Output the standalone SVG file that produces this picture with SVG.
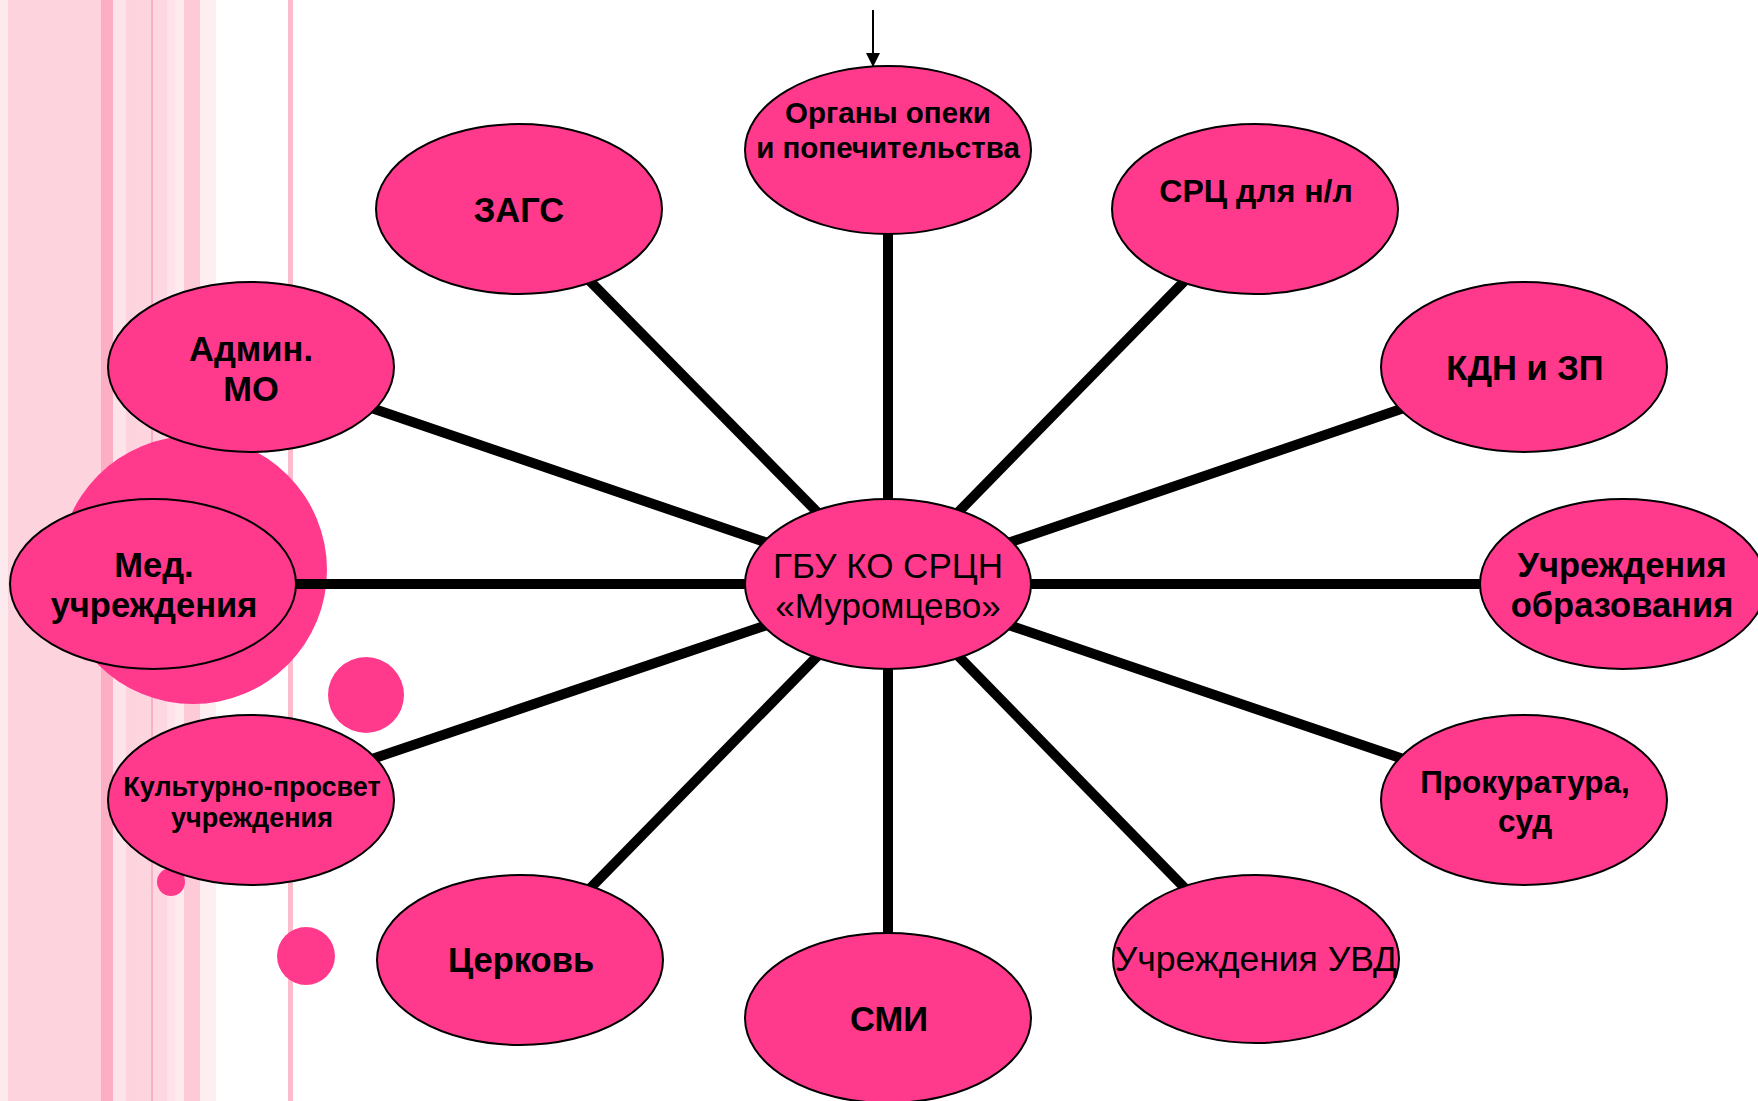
<svg xmlns="http://www.w3.org/2000/svg" width="1758" height="1101" viewBox="0 0 1758 1101">
<defs>
<style>
.node{fill:#ff3a8c;stroke:#000;stroke-width:2}
.deco{fill:#ff3a8c}
.lbl{font-family:"Liberation Sans",Arial,sans-serif;font-weight:bold;font-size:34.5px;fill:#000;text-anchor:middle}
.reg{font-family:"Liberation Sans",Arial,sans-serif;font-weight:normal;font-size:35px;fill:#000;text-anchor:middle}
.conn line{stroke:#000;stroke-width:10}
</style>
<marker id="arr" viewBox="0 0 10 10" refX="10" refY="5" markerWidth="15" markerHeight="14" markerUnits="userSpaceOnUse" orient="auto">
<path d="M0,0 L10,5 L0,10 z" fill="#000"/>
</marker>
</defs>
<rect x="0" y="0" width="1758" height="1101" fill="#fff"/>
<g id="background">
<rect x="0" y="0" width="8" height="1101" fill="#fdeaef"/>
<rect x="8" y="0" width="93" height="1101" fill="#fdd3de"/>
<rect x="101" y="0" width="12" height="1101" fill="#fcaec4"/>
<rect x="113" y="0" width="13" height="1101" fill="#fde3ea"/>
<rect x="126" y="0" width="10" height="1101" fill="#fdd3de"/>
<rect x="136" y="0" width="15" height="1101" fill="#fdd5df"/>
<rect x="151" y="0" width="2" height="1101" fill="#fcaec4"/>
<rect x="153" y="0" width="14" height="1101" fill="#fdd8e2"/>
<rect x="167" y="0" width="8" height="1101" fill="#fee3ea"/>
<rect x="175" y="0" width="9" height="1101" fill="#feebf0"/>
<rect x="184" y="0" width="16" height="1101" fill="#fdcad8"/>
<rect x="200" y="0" width="16" height="1101" fill="#fdeef2"/>
<rect x="288" y="0" width="5" height="1101" fill="#fdbccc"/>
<circle class="deco" cx="193" cy="570" r="134"/>
<circle class="deco" cx="366" cy="695" r="38"/>
<circle class="deco" cx="171" cy="882" r="14"/>
<circle class="deco" cx="306" cy="956" r="29"/>
</g>
<g id="connectors" class="conn">
<line x1="888" y1="584" x2="888" y2="150"/>
<line x1="888" y1="584" x2="519" y2="209"/>
<line x1="888" y1="584" x2="1255" y2="209"/>
<line x1="888" y1="584" x2="251" y2="367"/>
<line x1="888" y1="584" x2="1524" y2="367"/>
<line x1="888" y1="584" x2="153" y2="584"/>
<line x1="888" y1="584" x2="1623" y2="584"/>
<line x1="888" y1="584" x2="251" y2="800"/>
<line x1="888" y1="584" x2="1524" y2="800"/>
<line x1="888" y1="584" x2="520" y2="960"/>
<line x1="888" y1="584" x2="1255" y2="960"/>
<line x1="888" y1="584" x2="888" y2="1018"/>
<line x1="873" y1="10" x2="873" y2="67" style="stroke-width:2" marker-end="url(#arr)"/>
</g>
<g id="n-opeka"><ellipse class="node" cx="888" cy="150" rx="143" ry="84"/>
<text class="lbl" style="font-size:29.5px" x="888" y="123">Органы опеки</text>
<text class="lbl" style="font-size:29.5px" x="888" y="158">и попечительства</text></g>
<g id="n-zags"><ellipse class="node" cx="519" cy="209" rx="143" ry="85"/>
<text class="lbl" x="519" y="222">ЗАГС</text></g>
<g id="n-src"><ellipse class="node" cx="1255" cy="209" rx="143" ry="85"/>
<text class="lbl" style="font-size:32px" x="1256" y="202">СРЦ для н/л</text></g>
<g id="n-admin"><ellipse class="node" cx="251" cy="367" rx="143" ry="85"/>
<text class="lbl" x="251" y="361">Админ.</text>
<text class="lbl" x="251" y="401">МО</text></g>
<g id="n-kdn"><ellipse class="node" cx="1524" cy="367" rx="143" ry="85"/>
<text class="lbl" x="1525" y="380">КДН и ЗП</text></g>
<g id="n-med"><ellipse class="node" cx="153" cy="584" rx="143" ry="85"/>
<text class="lbl" x="154" y="577">Мед.</text>
<text class="lbl" x="154" y="617">учреждения</text></g>
<g id="n-center"><ellipse class="node" cx="888" cy="584" rx="143" ry="85"/>
<text class="reg" x="888" y="578">ГБУ КО СРЦН</text>
<text class="reg" x="888" y="618">«Муромцево»</text></g>
<g id="n-obr"><ellipse class="node" cx="1623" cy="584" rx="143" ry="85"/>
<text class="lbl" x="1622" y="577">Учреждения</text>
<text class="lbl" x="1622" y="617">образования</text></g>
<g id="n-kult"><ellipse class="node" cx="251" cy="800" rx="143" ry="85"/>
<text class="lbl" style="font-size:27px" x="252" y="796">Культурно-просвет</text>
<text class="lbl" style="font-size:27px" x="252" y="827">учреждения</text></g>
<g id="n-prok"><ellipse class="node" cx="1524" cy="800" rx="143" ry="85"/>
<text class="lbl" style="font-size:31.5px" x="1525" y="793">Прокуратура,</text>
<text class="lbl" style="font-size:31.5px" x="1525" y="832">суд</text></g>
<g id="n-church"><ellipse class="node" cx="520" cy="960" rx="143" ry="85"/>
<text class="lbl" x="521" y="972">Церковь</text></g>
<g id="n-uvd"><ellipse class="node" cx="1256" cy="959" rx="143" ry="84"/>
<text class="reg" style="font-size:35.5px" x="1256" y="971">Учреждения УВД</text></g>
<g id="n-smi"><ellipse class="node" cx="888" cy="1018" rx="143" ry="85"/>
<text class="lbl" x="889" y="1031">СМИ</text></g>
</svg>
